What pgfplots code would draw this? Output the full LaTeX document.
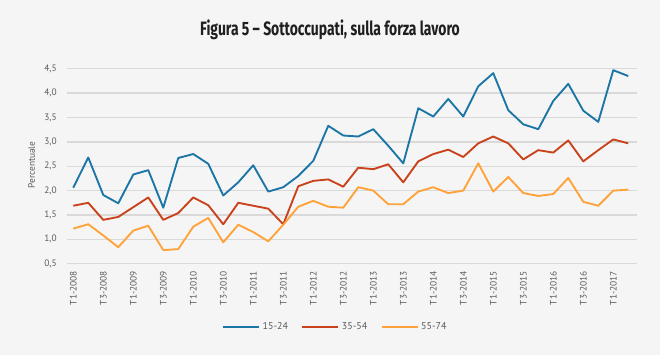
\documentclass[border=0pt]{standalone}
\usepackage{pgfplots}
\usepackage{pgfplotstable}
\pgfplotsset{compat=1.18}
\usepackage{fontspec}
\setmainfont{PT Sans}
\newfontfamily\titlefont[FakeStretch=0.72]{Fira Sans}
\definecolor{bg}{HTML}{F5F5F5}
\definecolor{gridc}{HTML}{D9D9D9}
\definecolor{txt}{HTML}{5A5A5A}
\definecolor{cblue}{HTML}{1B76A6}
\definecolor{cred}{HTML}{C9421B}
\definecolor{corange}{HTML}{FFA23A}
\pgfplotstableread{
x a b c
0 2.06 1.69 1.22
1 2.68 1.75 1.31
2 1.91 1.40 1.08
3 1.74 1.46 0.84
4 2.33 1.66 1.18
5 2.42 1.86 1.28
6 1.65 1.40 0.78
7 2.67 1.54 0.80
8 2.75 1.86 1.26
9 2.55 1.70 1.44
10 1.90 1.31 0.94
11 2.17 1.75 1.30
12 2.52 1.69 1.15
13 1.98 1.63 0.96
14 2.07 1.31 1.30
15 2.30 2.09 1.67
16 2.61 2.20 1.79
17 3.33 2.23 1.67
18 3.13 2.08 1.65
19 3.11 2.47 2.07
20 3.26 2.44 2.00
21 2.92 2.54 1.72
22 2.56 2.17 1.72
23 3.69 2.60 1.98
24 3.52 2.75 2.07
25 3.88 2.84 1.95
26 3.52 2.69 2.00
27 4.14 2.97 2.56
28 4.41 3.11 1.98
29 3.65 2.97 2.28
30 3.36 2.64 1.95
31 3.26 2.83 1.89
32 3.84 2.78 1.93
33 4.19 3.03 2.26
34 3.64 2.60 1.77
35 3.41 2.83 1.69
36 4.47 3.05 2.00
37 4.35 2.97 2.02
}\datatable
\begin{document}
\begin{tikzpicture}
\fill[bg] (0pt,0pt) rectangle (495pt,-266.25pt);
\node[font=\titlefont\bfseries\fontsize{14.5}{16}\selectfont, text=black!88] at (247.5pt,-22.5pt) {Figura 5 – Sottoccupati, sulla forza lavoro};
\node[rotate=90, font=\fontsize{7}{8}\selectfont, text=txt] at (23.8pt,-123.75pt) {Percentuale};
\begin{axis}[
  at={(50pt,-197.8pt)}, anchor=south west,
  scale only axis, width=427.5pt, height=146.25pt,
  xmin=-0.44, xmax=37.56, ymin=0.5, ymax=4.5,
  axis line style={draw=none},
  major tick length=0pt,
  ymajorgrids, grid style={gridc, line width=1.1pt},
  ytick={0.5,1,...,4.5},
  yticklabel style={/pgf/number format/use comma, /pgf/number format/fixed, /pgf/number format/fixed zerofill, /pgf/number format/precision=1, xshift=-4pt},
  /pgf/number format/assume math mode=true,
  ticklabel style={font=\fontsize{7}{8}\selectfont, text=txt},
  xtick={0,2,...,36},
  xticklabels={T1-2008,T3-2008,T1-2009,T3-2009,T1-2010,T3-2010,T1-2011,T3-2011,T1-2012,T3-2012,T1-2013,T3-2013,T1-2014,T3-2014,T1-2015,T3-2015,T1-2016,T3-2016,T1-2017},
  xticklabel style={rotate=90, anchor=east, xshift=-2pt},
  legend style={at={(0.472,-0.3245)}, anchor=center, draw=none, fill=none,
    font=\fontsize{7.5}{8}\selectfont, text=txt,
    /tikz/every even column/.append style={column sep=8pt}},
  legend columns=3,
  legend image code/.code={\draw[#1, line width=1.4pt] (0pt,0pt) -- (27pt,0pt);},
  every axis plot/.append style={line width=1.4pt, mark=none, line join=round},
]
\addplot[cblue] table[x=x, y=a] {\datatable};
\addplot[cred] table[x=x, y=b] {\datatable};
\addplot[corange] table[x=x, y=c] {\datatable};
\legend{15-24,35-54,55-74}
\end{axis}
\end{tikzpicture}
\end{document}
